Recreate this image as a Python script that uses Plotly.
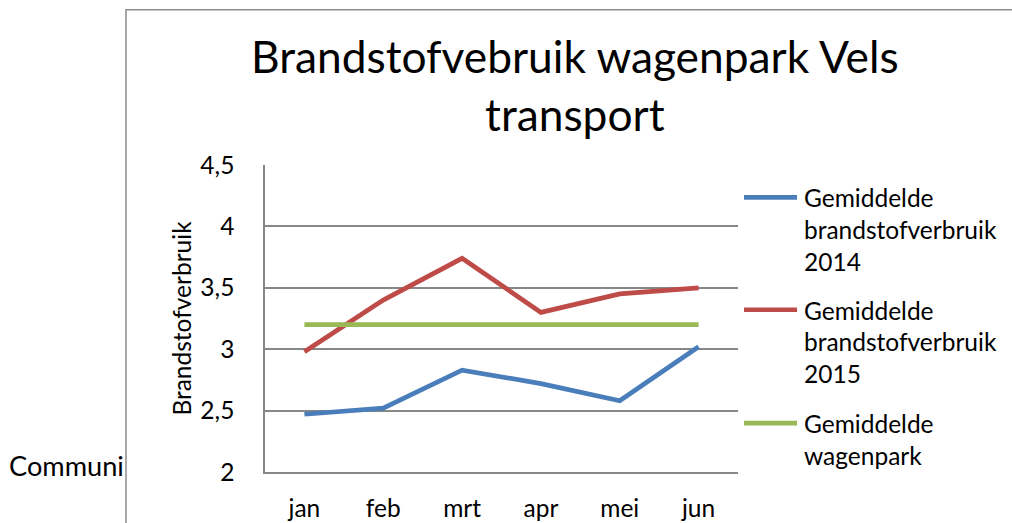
import plotly.graph_objects as go

months = ["jan", "feb", "mrt", "apr", "mei", "jun"]
verbruik_2014 = [2.47, 2.52, 2.83, 2.72, 2.58, 3.02]
verbruik_2015 = [2.98, 3.40, 3.74, 3.30, 3.45, 3.50]
gemiddelde_wagenpark = [3.20, 3.20, 3.20, 3.20, 3.20, 3.20]

series_names = [
    ["Gemiddelde", "brandstofverbruik", "2014"],
    ["Gemiddelde", "brandstofverbruik", "2015"],
    ["Gemiddelde", "wagenpark"],
]
series_colors = ["#4A7EBB", "#BE4B48", "#98B954"]

y_tickvals = [2, 2.5, 3, 3.5, 4, 4.5]
y_ticktext = ["2", "2,5", "3", "3,5", "4", "4,5"]

title_lines = ["Brandstofvebruik wagenpark Vels", "transport"]
y_title = "Brandstofverbruik"
side_text = "Communi"

W, H = 1012, 523
L, R, T, B = 265, 738, 165, 472.5
FONT = "Lato"
FS = 24.5


def px(x):
    return (x - L) / (R - L)


def py(y):
    return (B - y) / (B - T)


fig = go.Figure()
for vals, name, col in zip([verbruik_2014, verbruik_2015, gemiddelde_wagenpark], series_names, series_colors):
    fig.add_trace(go.Scatter(
        x=months, y=vals, mode="lines", name=" ".join(name),
        line=dict(color=col, width=4.7), showlegend=False,
    ))

annotations = []
shapes = []
# chart frame (only its left and top edges fall inside the picture)
shapes.append(dict(type="rect", xref="paper", yref="paper", x0=px(126), x1=px(1060),
                   y0=py(9.5), y1=py(570), line=dict(color="#8C8C8C", width=1.5),
                   fillcolor="rgba(0,0,0,0)", layer="below"))
# title (two lines)
annotations.append(dict(text="<br>".join(title_lines), x=px(575), y=py(84), xref="paper", yref="paper",
                        xanchor="center", yanchor="middle", showarrow=False, align="center",
                        font=dict(family=FONT, size=44.3, color="black")))
# side text
annotations.append(dict(text=side_text, x=px(7), y=py(466), xref="paper", yref="paper",
                        xanchor="left", yanchor="middle", showarrow=False,
                        font=dict(family=FONT, size=27.2, color="black")))
# custom legend
entry_tops = [198, 310.5, 424]
for lines, col, y0 in zip(series_names, series_colors, entry_tops):
    shapes.append(dict(type="line", xref="paper", yref="paper",
                       x0=px(744), x1=px(797), y0=py(y0 - 0.5), y1=py(y0 - 0.5),
                       line=dict(color=col, width=4.7)))
    for i, t in enumerate(lines):
        annotations.append(dict(text=t, x=px(802), y=py(y0 + i * 31.7), xref="paper", yref="paper",
                                xanchor="left", yanchor="middle", showarrow=False,
                                font=dict(family=FONT, size=FS, color="black")))

fig.update_layout(
    width=W, height=H,
    margin=dict(l=L, r=W - R, t=T, b=H - B, pad=0, autoexpand=False),
    paper_bgcolor="white", plot_bgcolor="rgba(0,0,0,0)",
    font=dict(family=FONT, size=FS, color="black"),
    annotations=annotations, shapes=shapes,
    xaxis=dict(type="category", range=[-0.5, 5.5], showgrid=False, showline=True,
               linecolor="#878787", linewidth=1.5, ticks="", ticklabelstandoff=14,
               automargin=False,
               tickfont=dict(family=FONT, size=FS, color="black"), zeroline=False),
    yaxis=dict(range=[2, 4.5], tickvals=y_tickvals, ticktext=y_ticktext,
               showgrid=True, gridcolor="#878787", gridwidth=1.5,
               showline=True, linecolor="#878787", linewidth=1.5, ticks="",
               ticklabelstandoff=24, zeroline=False, automargin=False,
               tickfont=dict(family=FONT, size=FS, color="black"),
               title=dict(text=y_title, standoff=2, font=dict(family=FONT, size=FS, color="black"))),
)

fig.write_html(
    "out.html",
    config={"displayModeBar": False},
    post_script=(
        "document.documentElement.style.margin='0';document.documentElement.style.overflow='hidden';"
        "document.body.style.margin='0';document.body.style.overflow='hidden';"
    ),
)
